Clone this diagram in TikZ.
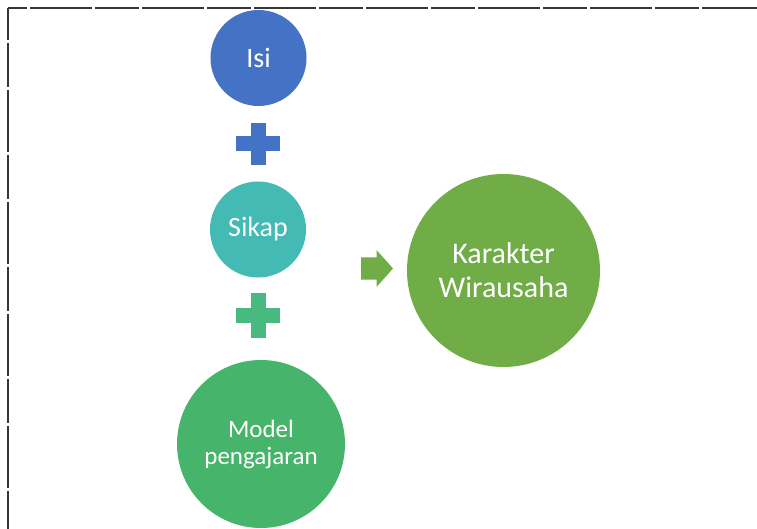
\documentclass[tikz,border=0pt]{standalone}
\usepackage{fontspec}
\setmainfont{Carlito}
\definecolor{cblue}{HTML}{4472C4}
\definecolor{cteal}{HTML}{44BAB4}
\definecolor{cplus}{HTML}{48B97F}
\definecolor{cmodel}{HTML}{46B46A}
\definecolor{cgreen}{HTML}{70AD47}
\definecolor{cframe}{HTML}{363636}
\tikzset{
  bubble/.style={circle, inner sep=0pt, text=white, align=center},
  framerule/.style={draw=cframe, line width=2.8pt, dash pattern=on 62pt off 3pt on 44pt off 3pt},
}
\begin{document}
\begin{tikzpicture}[x=1pt,y=-1pt]
\useasboundingbox (0,0) rectangle (757,529);
% frame
\coordinate (c0) at (8,8);
\coordinate (c1) at (757,8);
\coordinate (c2) at (8,529);
\draw[framerule, dash phase=90pt] (c0) -- (c1);
\draw[framerule, dash phase=30pt] (c0) -- (c2);
% circles
\node[bubble, fill=cblue, minimum size=96pt, font=\fontsize{28}{32}\selectfont] (isi) at (258.5,58) {Isi};
\node[bubble, fill=cteal, minimum size=96pt, font=\fontsize{28}{32}\selectfont] (sikap) at (258,229.5) {Sikap};
\node[bubble, fill=cmodel, minimum size=168pt, font=\fontsize{25}{27}\selectfont] (model) at (261,444) {Model\\pengajaran};
\node[bubble, fill=cgreen, minimum size=193pt, font=\fontsize{30}{34}\selectfont] (kar) at (503.5,270.5) {Karakter\\Wirausaha};
% plus signs
\fill[cblue] (250.5,123) rectangle (265.5,165);
\fill[cblue] (236,136.5) rectangle (280,151.5);
\fill[cplus] (250.5,293) rectangle (265.5,338);
\fill[cplus] (236,308) rectangle (280,323);
% arrow
\fill[cgreen] (361,257.5) -- (376.5,257.5) -- (376.5,250) -- (393,268.5) -- (376.5,287) -- (376.5,279.5) -- (361,279.5) -- cycle;
\end{tikzpicture}
\end{document}
